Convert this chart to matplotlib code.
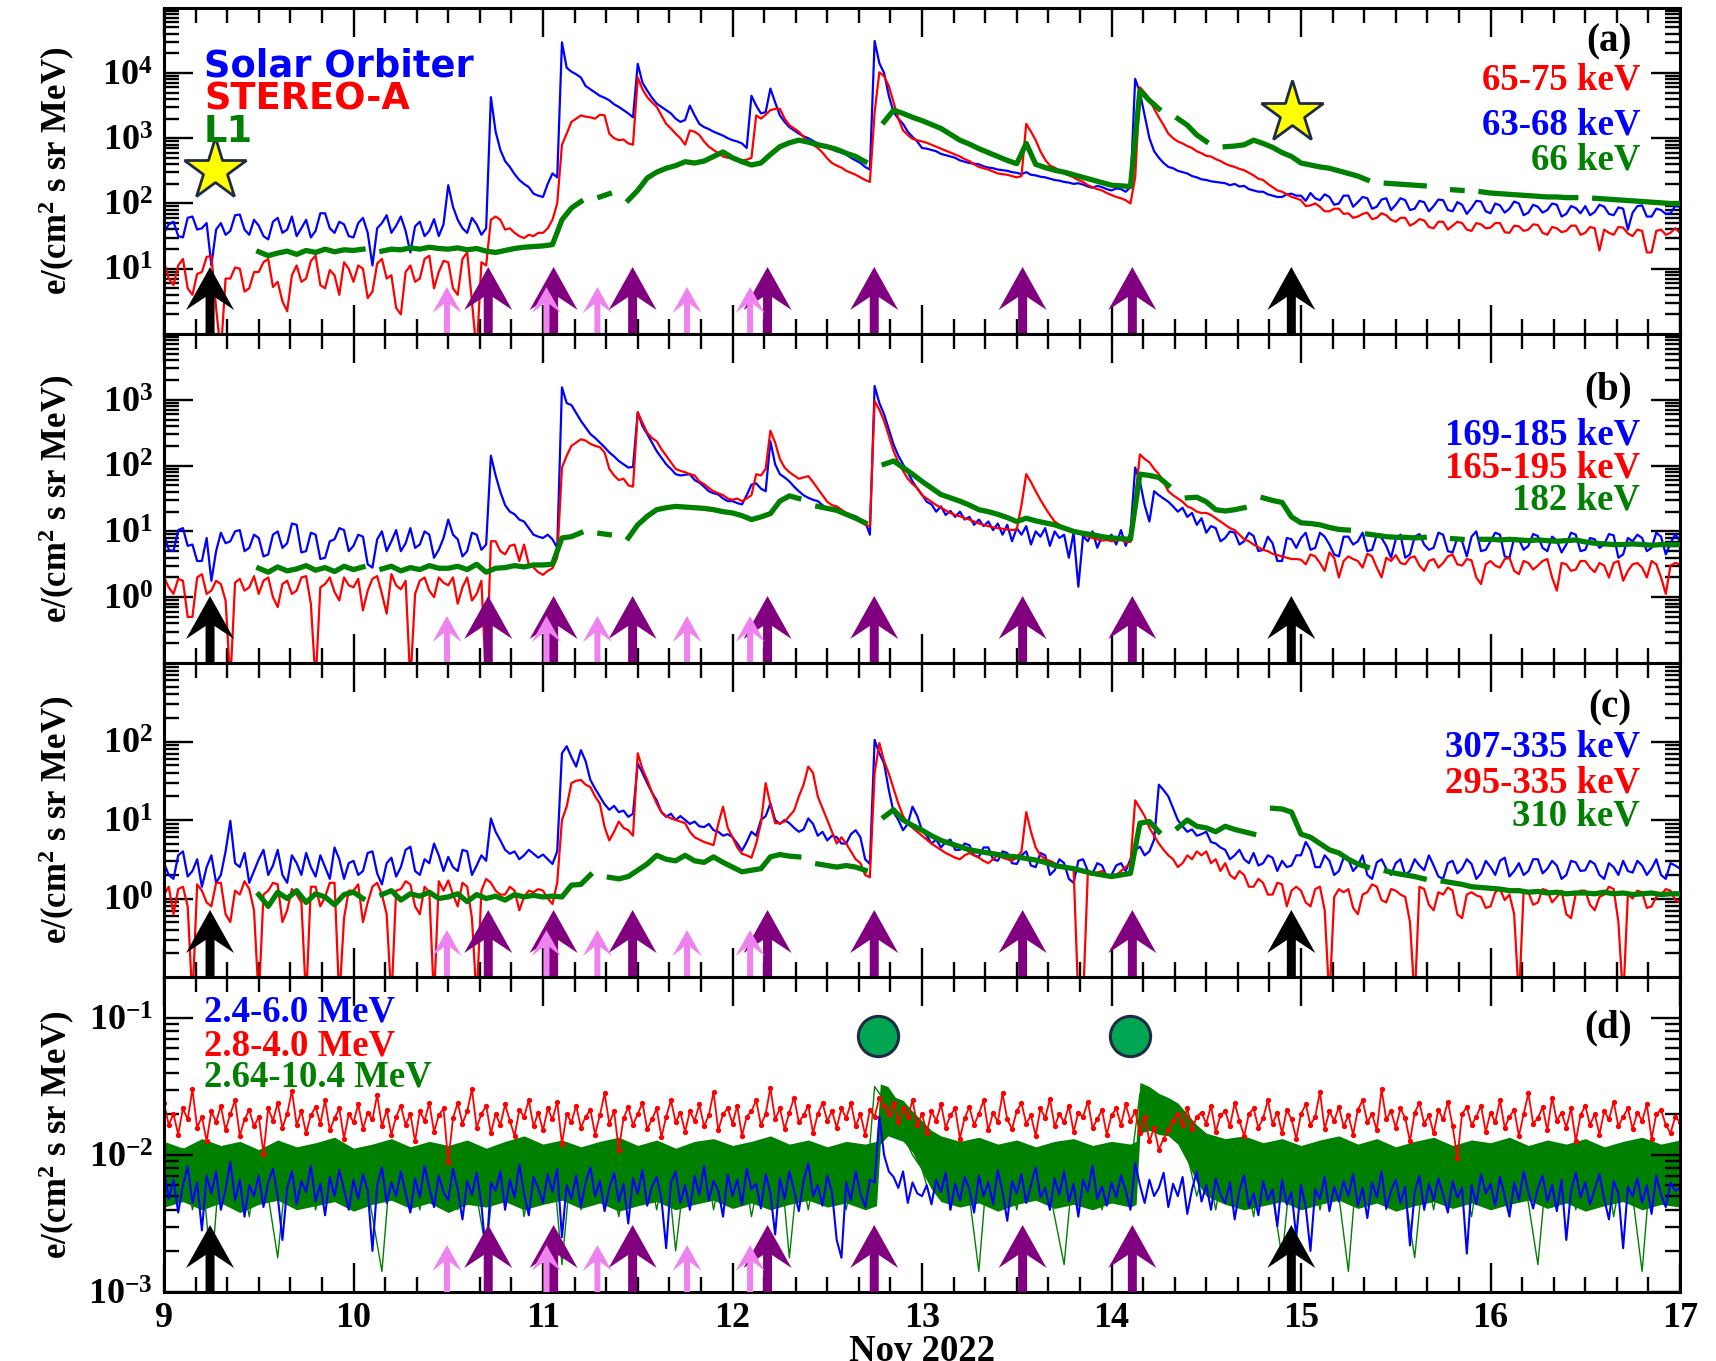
import numpy as np
import matplotlib
matplotlib.use("Agg")
import matplotlib.pyplot as plt
from matplotlib import transforms as mtransforms
from matplotlib.patches import Polygon
from matplotlib.ticker import FixedLocator, LogLocator, MultipleLocator, NullFormatter, FuncFormatter

nan = np.nan

# ---------------------------------------------------------------------------
# Time grids: 9 - 17 Nov 2022
days = np.round(9.0 + 0.05 * np.arange(161), 3)        # 0.05-day samples (L1 channels)
days_fine = np.round(9.0 + 0.025 * np.arange(321), 3)  # 0.025-day samples

# All intensities below are log10 of e/(cm^2 s sr MeV)
# Panel (a): ~65 keV  (Solar Orbiter / STEREO-A on the fine grid)
solo_a = [
    1.55, 1.68, 1.72, 1.50, 1.48, 1.78, 1.80, 1.60, 1.62, 1.70,
    1.05, 1.60, 1.70, 1.52, 1.58, 1.82, 1.83, 1.60, 1.52, 1.75,
    1.66, 1.50, 1.45, 1.72, 1.78, 1.55, 1.60, 1.80, 1.50, 1.62,
    1.75, 1.48, 1.58, 1.85, 1.85, 1.62, 1.55, 1.72, 1.68, 1.50,
    1.48, 1.70, 1.78, 1.55, 1.05, 1.62, 1.70, 1.82, 1.55, 1.66,
    1.80, 1.58, 1.25, 1.65, 1.72, 1.50, 1.58, 1.76, 1.50, 1.68,
    2.28, 1.95, 1.75, 1.62, 1.55, 1.78, 1.68, 1.52, 1.62, 3.63,
    3.10, 2.82, 2.65, 2.56, 2.45, 2.36, 2.30, 2.25, 2.15, 2.12,
    2.10, 2.30, 2.46, 2.40, 4.47, 4.08, 4.02, 3.98, 3.93, 3.80,
    3.75, 3.70, 3.65, 3.62, 3.58, 3.52, 3.48, 3.43, 3.38, 3.32,
    4.14, 3.85, 3.73, 3.62, 3.53, 3.48, 3.43, 3.38, 3.30, 3.25,
    3.28, 3.50, 3.35, 3.22, 3.17, 3.14, 3.10, 3.07, 3.04, 3.00,
    2.97, 2.95, 2.92, 2.85, 3.65, 3.50, 3.38, 3.40, 3.76, 3.55,
    3.35, 3.25, 3.17, 3.12, 3.07, 3.03, 3.00, 2.96, 2.92, 2.88,
    2.86, 2.83, 2.80, 2.78, 2.75, 2.70, 2.66, 2.62, 2.56, 2.52,
    4.49, 4.15, 4.00, 3.65, 3.40, 3.30, 3.22, 3.10, 3.02, 2.95,
    2.85, 2.84, 2.82, 2.80, 2.76, 2.74, 2.72, 2.70, 2.66, 2.64,
    2.62, 2.61, 2.60, 2.57, 2.55, 2.54, 2.52, 2.51, 2.50, 2.48,
    2.47, 2.45, 2.48, 2.44, 2.43, 2.41, 2.40, 2.38, 2.36, 2.35,
    2.33, 2.32, 2.30, 2.31, 2.29, 2.26, 2.24, 2.27, 2.25, 2.22,
    2.20, 2.23, 2.22, 2.18, 2.25, 3.91, 3.70, 3.35, 3.00, 2.80,
    2.70, 2.62, 2.56, 2.54, 2.50, 2.48, 2.46, 2.42, 2.40, 2.37,
    2.36, 2.34, 2.33, 2.32, 2.31, 2.28, 2.30, 2.26, 2.27, 2.22,
    2.20, 2.18, 2.18, 2.14, 2.12, 2.10, 2.10, 2.14, 2.15, 2.12,
    2.12, 2.04, 2.16, 2.08, 2.05, 2.14, 2.10, 1.98, 2.00, 2.12,
    2.12, 1.95, 2.02, 2.10, 2.08, 1.92, 1.95, 2.06, 2.08, 1.90,
    1.98, 2.08, 2.05, 1.90, 1.92, 2.04, 2.02, 1.88, 1.96, 2.06,
    2.05, 1.90, 1.88, 2.02, 1.98, 1.84, 1.93, 2.04, 2.03, 1.88,
    1.85, 2.00, 1.97, 1.86, 1.92, 2.03, 2.00, 1.82, 1.86, 1.98,
    1.95, 1.86, 1.90, 2.00, 1.98, 1.80, 1.84, 1.96, 1.93, 1.85,
    1.96, 1.82, 1.87, 1.98, 1.95, 1.84, 1.82, 1.94, 1.92, 1.60,
    1.86, 1.96, 1.97, 1.80, 1.80, 1.92, 1.90, 1.84, 1.85, 1.96,
    1.95]
sta_a = [
    1.10, 0.85, 0.75, 1.05, 1.15, 0.70, 0.60, 0.92, 0.95, 1.18,
    1.20, 0.40, -0.30, 0.85, 0.85, 1.02, 1.00, 0.65, 0.70, 0.95,
    0.95, 1.10, 1.15, 0.72, 0.80, 0.50, 0.35, 0.90, 1.05, 0.80,
    0.85, 1.12, 1.20, 0.75, 0.70, 0.98, 0.90, 0.60, 1.10, 1.00,
    0.80, 1.05, 1.00, 0.55, 0.65, 1.08, 1.15, 0.85, 0.90, 0.40,
    0.30, 0.95, 1.05, 0.80, 0.85, 1.15, 1.20, 0.70, 0.95, 1.12,
    1.10, 0.70, 0.60, 1.15, 1.25, 0.50, -0.30, 1.10, 1.05, 1.75,
    1.80, 1.75, 1.60, 1.62, 1.55, 1.50, 1.47, 1.52, 1.50, 1.55,
    1.55, 1.62, 1.75, 2.00, 2.90, 3.07, 3.25, 3.30, 3.35, 3.33,
    3.32, 3.30, 3.36, 3.35, 3.07, 3.00, 2.97, 2.98, 2.92, 2.90,
    3.93, 3.75, 3.63, 3.55, 3.48, 3.35, 3.22, 3.15, 3.07, 3.00,
    2.90, 3.12, 3.10, 3.05, 2.95, 2.87, 2.82, 2.77, 2.72, 2.70,
    2.69, 2.68, 2.66, 2.67, 2.70, 3.35, 3.30, 3.36, 3.43, 3.45,
    3.45, 3.30, 3.20, 3.15, 3.10, 3.02, 2.95, 2.90, 2.85, 2.78,
    2.69, 2.62, 2.58, 2.55, 2.50, 2.47, 2.44, 2.40, 2.36, 2.33,
    3.40, 4.01, 3.95, 3.80, 3.55, 3.30, 3.12, 3.05, 2.99, 2.97,
    2.95, 2.93, 2.90, 2.87, 2.84, 2.81, 2.78, 2.75, 2.72, 2.68,
    2.65, 2.60, 2.56, 2.54, 2.52, 2.49, 2.46, 2.45, 2.44, 2.42,
    2.40, 2.42, 3.22, 3.10, 2.97, 2.80, 2.67, 2.58, 2.55, 2.50,
    2.46, 2.43, 2.40, 2.36, 2.33, 2.28, 2.25, 2.22, 2.20, 2.16,
    2.13, 2.10, 2.08, 2.05, 2.00, 2.40, 3.78, 3.70, 3.60, 3.45,
    3.32, 3.20, 3.07, 3.00, 2.95, 2.92, 2.88, 2.85, 2.80, 2.77,
    2.73, 2.72, 2.68, 2.65, 2.61, 2.58, 2.56, 2.53, 2.51, 2.47,
    2.43, 2.38, 2.36, 2.30, 2.25, 2.20, 2.18, 2.14, 2.10, 2.08,
    2.05, 1.96, 1.97, 2.00, 1.95, 1.88, 1.88, 1.92, 1.92, 1.84,
    1.85, 1.78, 1.80, 1.84, 1.86, 1.76, 1.78, 1.85, 1.82, 1.75,
    1.72, 1.78, 1.78, 1.66, 1.70, 1.76, 1.74, 1.64, 1.62, 1.72,
    1.72, 1.60, 1.66, 1.72, 1.70, 1.60, 1.58, 1.70, 1.68, 1.62,
    1.63, 1.70, 1.70, 1.56, 1.55, 1.66, 1.65, 1.58, 1.60, 1.68,
    1.67, 1.55, 1.52, 1.64, 1.62, 1.56, 1.58, 1.66, 1.66, 1.52,
    1.55, 1.64, 1.62, 1.28, 1.60, 1.55, 1.52, 1.64, 1.63, 1.54,
    1.50, 1.60, 1.58, 1.25, 1.25, 1.58, 1.60, 1.52, 1.55, 1.62,
    1.55]
l1_a = [
    nan, nan, nan, nan, nan, nan, nan, nan, nan, nan,
    1.26, 1.20, 1.24, 1.27, 1.22, 1.28, 1.25, 1.30, 1.26, 1.29,
    1.28, 1.30, nan, 1.27, 1.30, 1.29, 1.32, 1.30, 1.33, 1.31,
    1.30, 1.32, 1.29, 1.31, 1.27, 1.25, 1.28, 1.31, 1.33, 1.34,
    1.35, 1.37, 1.75, 1.93, 2.03, nan, 2.10, 2.15, nan, 2.05,
    2.20, 2.39, 2.48, 2.54, 2.58, 2.64, 2.62, 2.65, 2.72, 2.79,
    2.70, 2.64, 2.59, 2.62, 2.75, 2.87, 2.93, 2.97, 2.94, 2.90,
    2.87, 2.83, 2.77, 2.72, 2.64, nan, 3.25, 3.43, 3.38, 3.32,
    3.27, 3.21, 3.15, 3.06, 2.97, 2.91, 2.84, 2.78, 2.72, 2.66,
    2.61, 2.92, 2.60, 2.55, 2.51, 2.48, 2.44, 2.40, 2.36, 2.32,
    2.28, 2.27, 2.26, 3.73, 3.58, 3.45, nan, 3.30, 3.20, 3.05,
    2.95, nan, 2.87, 2.88, 2.90, 2.97, 2.92, 2.86, 2.78, 2.72,
    2.62, 2.59, 2.56, 2.54, 2.50, 2.46, 2.42, 2.36, nan, 2.31,
    2.30, 2.29, 2.28, 2.27, nan, nan, 2.21, 2.20, nan, 2.18,
    2.16, 2.15, 2.14, 2.13, 2.12, 2.11, 2.10, 2.10, 2.09, 2.09,
    nan, 2.08, 2.07, 2.06, 2.05, 2.04, 2.03, 2.02, 2.01, 2.00,
    2.00]

# Panel (b): ~180 keV
solo_b = [
    0.95, 0.72, 0.70, 1.02, 1.05, 0.78, 0.80, 0.55, 0.55, 0.90,
    0.25, 0.70, 0.98, 0.82, 0.85, 1.00, 1.02, 0.70, 0.75, 0.95,
    0.90, 0.62, 0.65, 0.95, 1.00, 0.75, 0.82, 1.12, 1.10, 0.68,
    0.70, 0.98, 0.95, 0.58, 0.60, 0.85, 0.88, 1.05, 1.02, 0.70,
    0.78, 0.95, 0.92, 0.50, 0.45, 0.88, 1.00, 0.70, 0.85, 1.02,
    0.70, 0.82, 1.05, 0.75, 0.80, 1.00, 0.95, 0.60, 0.72, 0.90,
    1.18, 0.95, 0.88, 0.62, 0.70, 0.98, 0.95, 0.72, 0.80, 2.15,
    1.85, 1.60, 1.40, 1.30, 1.26, 1.18, 1.15, 1.05, 0.95, 0.92,
    0.90, 0.95, 0.88, 0.75, 3.19, 2.95, 2.92, 2.80, 2.68, 2.58,
    2.48, 2.42, 2.35, 2.28, 2.20, 2.14, 2.07, 2.02, 1.97, 1.98,
    2.81, 2.60, 2.48, 2.35, 2.22, 2.12, 2.02, 1.95, 1.87, 1.85,
    1.86, 1.87, 1.78, 1.74, 1.68, 1.61, 1.58, 1.56, 1.50, 1.46,
    1.46, 1.43, 1.41, 1.55, 1.71, 1.73, 1.65, 1.61, 2.37, 2.02,
    1.87, 1.82, 1.76, 1.68, 1.61, 1.55, 1.51, 1.48, 1.46, 1.40,
    1.33, 1.36, 1.35, 1.28, 1.28, 1.25, 1.23, 1.18, 1.15, 0.95,
    3.21, 2.95, 2.78, 2.55, 2.32, 2.15, 2.02, 1.90, 1.76, 1.65,
    1.56, 1.45, 1.41, 1.30, 1.38, 1.25, 1.31, 1.22, 1.30, 1.18,
    1.22, 1.10, 1.18, 1.08, 1.15, 1.02, 1.12, 0.95, 1.10, 0.85,
    1.05, 0.95, 1.08, 0.80, 1.00, 0.92, 1.05, 0.78, 1.00, 0.90,
    0.95, 0.60, 0.98, 0.16, 0.93, 0.85, 1.00, 0.75, 0.93, 0.88,
    0.95, 0.80, 1.02, 0.78, 0.98, 1.97, 1.76, 1.40, 1.15, 1.61,
    1.55, 1.50, 1.45, 1.38, 1.30, 1.36, 1.22, 1.28, 1.10, 1.20,
    0.98, 1.08, 1.05, 0.85, 0.90, 1.00, 0.98, 0.80, 0.85, 0.98,
    0.93, 0.70, 0.72, 0.92, 0.82, 0.55, 0.55, 0.90, 0.88, 0.75,
    0.90, 0.98, 0.72, 0.75, 0.98, 0.92, 0.80, 0.65, 0.62, 0.92,
    0.92, 0.80, 0.85, 0.98, 0.70, 0.72, 0.95, 0.90, 0.78, 0.60,
    0.88, 0.95, 0.60, 0.65, 0.92, 0.96, 0.80, 0.72, 0.75, 0.98,
    0.95, 0.70, 0.68, 0.90, 0.85, 0.62, 0.92, 1.00, 0.70, 0.72,
    0.85, 0.98, 0.95, 0.62, 0.60, 0.90, 0.88, 0.72, 0.78, 0.96,
    0.93, 0.75, 0.70, 0.92, 0.86, 0.68, 0.80, 0.98, 0.95, 0.70,
    0.72, 0.90, 0.88, 0.75, 0.80, 0.96, 0.94, 0.60, 0.65, 0.90,
    0.85, 0.95, 0.90, 0.70, 0.75, 0.98, 0.92, 0.65, 0.82, 0.96,
    0.85]
sta_b = [
    0.30, 0.15, 0.05, 0.28, 0.25, -0.30, -0.30, 0.30, 0.35, 0.05,
    0.10, 0.25, 0.20, -0.05, -1.30, 0.22, 0.28, 0.10, 0.15, 0.32,
    0.05, 0.25, 0.30, 0.00, -0.15, 0.20, 0.25, 0.05, 0.10, 0.30,
    0.32, -0.10, -1.30, 0.15, 0.20, 0.30, 0.08, -0.05, 0.30, 0.18,
    0.15, 0.28, -0.20, 0.10, 0.28, 0.32, 0.05, -0.25, 0.35, 0.18,
    0.12, 0.25, -1.30, 0.05, 0.25, 0.30, 0.10, 0.00, 0.30, 0.22,
    0.18, 0.30, -0.10, 0.15, 0.30, -0.05, 0.05, 0.25, -1.30, 0.85,
    0.85, 0.70, 0.65, 0.78, 0.80, 0.55, 0.80, 0.50, 0.45, 0.38,
    0.34, 0.40, 0.44, 0.60, 1.97, 2.15, 2.30, 2.35, 2.40, 2.38,
    2.33, 2.30, 2.28, 2.20, 1.95, 1.85, 1.78, 1.80, 1.70, 1.68,
    2.81, 2.65, 2.50, 2.42, 2.37, 2.25, 2.15, 2.05, 1.95, 1.92,
    1.90, 1.87, 1.85, 1.76, 1.72, 1.66, 1.61, 1.58, 1.55, 1.50,
    1.48, 1.50, 1.46, 1.50, 1.55, 1.87, 1.85, 1.95, 2.53, 2.35,
    2.10, 1.97, 1.90, 1.85, 1.80, 1.82, 1.84, 1.75, 1.65, 1.55,
    1.45, 1.40, 1.38, 1.33, 1.28, 1.25, 1.20, 1.15, 1.10, 1.08,
    2.98, 2.85, 2.68, 2.45, 2.22, 2.05, 1.92, 1.80, 1.72, 1.66,
    1.55, 1.50, 1.45, 1.40, 1.36, 1.32, 1.28, 1.25, 1.23, 1.20,
    1.18, 1.15, 1.12, 1.10, 1.08, 1.06, 1.05, 1.04, 1.03, 1.02,
    1.03, 1.40, 1.87, 1.75, 1.61, 1.48, 1.36, 1.25, 1.15, 1.10,
    1.05, 1.02, 1.00, 0.97, 0.95, 0.92, 0.90, 0.88, 0.86, 0.87,
    0.85, 0.86, 0.87, 0.84, 0.84, 1.50, 2.17, 2.10, 2.05, 1.95,
    1.87, 1.75, 1.61, 1.55, 1.50, 1.45, 1.38, 1.35, 1.30, 1.28,
    1.28, 1.25, 1.20, 1.15, 1.10, 1.05, 1.02, 0.95, 0.88, 0.85,
    0.80, 0.76, 0.72, 0.70, 0.66, 0.64, 0.62, 0.60, 0.58, 0.58,
    0.57, 0.50, 0.65, 0.62, 0.52, 0.40, 0.68, 0.60, 0.30, 0.55,
    0.62, 0.58, 0.55, 0.45, 0.66, 0.62, 0.45, 0.30, 0.60, 0.55,
    0.64, 0.52, 0.50, 0.60, 0.62, 0.48, 0.40, 0.55, 0.58, 0.45,
    0.52, 0.62, 0.65, 0.50, 0.48, 0.58, 0.56, 0.30, 0.20, 0.50,
    0.55, 0.48, 0.45, 0.58, 0.60, 0.40, 0.35, 0.55, 0.52, 0.42,
    0.48, 0.55, 0.58, 0.30, 0.10, 0.52, 0.50, 0.40, 0.42, 0.55,
    0.55, 0.45, 0.38, 0.52, 0.48, 0.30, 0.52, 0.55, 0.25, 0.40,
    0.50, 0.52, 0.45, 0.30, 0.55, 0.50, 0.30, 0.05, 0.48, 0.52,
    0.50]
l1_b = [
    nan, nan, nan, nan, nan, nan, nan, nan, nan, nan,
    0.44, 0.38, 0.46, 0.40, 0.43, 0.48, 0.41, 0.45, 0.39, 0.47,
    0.42, 0.46, nan, 0.43, 0.47, 0.40, 0.45, 0.42, 0.48, 0.44,
    0.44, 0.47, 0.42, 0.50, 0.38, 0.44, 0.45, 0.48, 0.46, 0.49,
    0.49, 0.50, 0.90, 0.92, 0.98, nan, 0.97, 0.95, nan, 0.90,
    1.10, 1.23, 1.33, 1.36, 1.38, 1.37, 1.36, 1.35, 1.33, 1.30,
    1.28, 1.24, 1.18, 1.22, 1.27, 1.46, 1.54, 1.50, nan, 1.38,
    1.35, 1.32, 1.26, 1.20, 1.13, nan, 2.02, 2.07, 1.97, 1.87,
    1.76, 1.66, 1.56, 1.51, 1.46, 1.40, 1.33, 1.30, 1.26, 1.21,
    1.15, 1.20, 1.16, 1.13, 1.10, 1.05, 1.00, 0.97, 0.95, 0.92,
    0.90, 0.89, 0.88, 1.87, 1.85, 1.82, 1.70, nan, 1.51, 1.52,
    1.45, 1.33, 1.31, 1.33, 1.36, nan, 1.51, 1.47, 1.44, 1.22,
    1.13, 1.12, 1.10, 1.06, 1.03, 1.02, nan, 0.96, 0.94, 0.92,
    0.91, 0.91, 0.90, 0.91, nan, nan, 0.89, 0.88, nan, 0.88,
    0.88, 0.87, 0.88, 0.87, 0.86, 0.87, 0.86, 0.85, 0.86, 0.87,
    0.84, 0.82, 0.81, 0.80, 0.80, 0.81, 0.80, 0.79, 0.80, 0.80,
    0.80]

# Panel (c): ~310 keV
solo_c = [
    0.45, 0.30, 0.25, 0.55, 0.60, 0.28, 0.35, 0.50, 0.15, 0.40,
    0.55, 0.20, 0.30, 0.60, 0.99, 0.45, 0.40, 0.58, 0.20, 0.35,
    0.50, 0.62, 0.30, 0.42, 0.62, 0.30, 0.20, 0.55, 0.45, 0.30,
    0.58, 0.40, 0.28, 0.55, 0.40, 0.25, 0.65, 0.50, 0.25, 0.45,
    0.48, 0.30, 0.35, 0.58, 0.60, 0.32, 0.18, 0.45, 0.52, 0.28,
    0.40, 0.62, 0.66, 0.35, 0.30, 0.50, 0.45, 0.70, 0.55, 0.35,
    0.53, 0.40, 0.35, 0.62, 0.60, 0.30, 0.42, 0.55, 0.48, 1.02,
    0.85, 0.74, 0.62, 0.57, 0.60, 0.50, 0.55, 0.62, 0.57, 0.52,
    0.56, 0.50, 0.44, 0.60, 1.85, 1.94, 1.80, 1.68, 1.89, 1.75,
    1.51, 1.40, 1.30, 1.20, 1.13, 1.18, 1.10, 1.12, 1.04, 1.08,
    1.72, 1.60, 1.47, 1.35, 1.25, 1.10, 1.04, 1.08, 1.00, 1.05,
    1.00, 0.95, 0.98, 0.92, 0.91, 0.95, 0.87, 0.85, 0.80, 0.82,
    0.78, 0.70, 0.61, 0.72, 0.85, 0.80, 1.00, 1.05, 1.21, 1.00,
    0.95, 1.00, 0.96, 0.90, 0.85, 0.88, 1.02, 0.95, 0.80, 0.85,
    0.74, 0.80, 0.78, 0.70, 0.70, 0.82, 0.87, 0.78, 0.50, 0.44,
    2.02, 1.85, 1.72, 1.38, 1.10, 1.00, 0.87, 0.95, 1.17, 1.05,
    0.87, 0.80, 0.70, 0.75, 0.65, 0.72, 0.75, 0.62, 0.62, 0.70,
    0.68, 0.55, 0.53, 0.65, 0.65, 0.50, 0.48, 0.60, 0.58, 0.45,
    0.44, 0.55, 0.60, 0.42, 0.40, 0.58, 0.55, 0.30, 0.36, 0.50,
    0.45, 0.25, 0.20, 0.48, 0.50, 0.35, 0.32, 0.45, 0.42, 0.28,
    0.30, 0.42, 0.45, 0.35, 0.50, 0.62, 0.66, 0.55, 0.60, 0.75,
    1.45, 1.38, 1.30, 1.15, 1.00, 0.92, 0.85, 0.88, 0.80, 0.82,
    0.85, 0.72, 0.70, 0.65, 0.62, 0.50, 0.55, 0.62, 0.50, 0.45,
    0.58, 0.42, 0.45, 0.55, 0.52, 0.35, 0.48, 0.40, 0.42, 0.55,
    0.55, 0.72, 0.62, 0.40, 0.40, 0.55, 0.48, 0.30, 0.35, 0.52,
    0.50, 0.35, 0.42, 0.55, 0.30, 0.25, 0.46, 0.50, 0.38, 0.30,
    0.45, 0.50, 0.30, 0.35, 0.50, 0.42, 0.36, 0.55, 0.42, 0.28,
    0.25, 0.45, 0.48, 0.32, 0.38, 0.50, 0.44, 0.25, 0.32, 0.48,
    0.40, 0.30, 0.48, 0.52, 0.28, 0.35, 0.45, 0.30, 0.35, 0.50,
    0.50, 0.32, 0.38, 0.48, 0.42, 0.25, 0.30, 0.48, 0.46, 0.35,
    0.36, 0.48, 0.44, 0.30, 0.25, 0.45, 0.40, 0.30, 0.48, 0.35,
    0.33, 0.48, 0.42, 0.30, 0.38, 0.50, 0.30, 0.25, 0.45, 0.42,
    0.38]
sta_c = [
    0.05, 0.15, -0.20, 0.12, 0.15, -0.10, -1.30, 0.18, 0.10, -0.05,
    -0.10, 0.20, 0.20, -0.20, -0.30, 0.10, 0.05, 0.22, 0.12, -0.15,
    -1.30, 0.05, 0.10, 0.20, 0.18, -0.30, -0.15, 0.12, 0.05, -0.05,
    -1.30, 0.15, 0.15, -0.10, 0.02, 0.20, 0.20, -1.30, -0.25, 0.10,
    0.10, 0.18, -0.30, -0.05, 0.15, 0.20, 0.05, -0.20, -1.30, 0.10,
    0.12, 0.22, 0.18, -0.10, -0.20, 0.15, 0.08, -1.30, 0.22, 0.10,
    0.23, 0.05, -0.10, 0.20, 0.15, -0.25, -1.30, 0.10, 0.25, 0.20,
    0.10, 0.05, 0.05, 0.15, 0.10, -0.15, 0.02, 0.10, 0.08, 0.12,
    0.10, 0.00, -0.07, 0.20, 1.00, 1.17, 1.47, 1.50, 1.51, 1.45,
    1.42, 1.30, 1.21, 0.91, 0.74, 0.85, 0.98, 0.90, 0.87, 0.80,
    1.85, 1.65, 1.51, 1.35, 1.21, 1.10, 1.05, 1.02, 1.00, 0.98,
    0.96, 0.85, 0.78, 0.75, 0.72, 0.70, 0.68, 0.95, 1.17, 0.90,
    0.78, 0.65, 0.57, 0.55, 0.52, 0.70, 0.96, 1.47, 1.20, 0.96,
    0.96, 0.98, 1.05, 1.12, 1.30, 1.45, 1.68, 1.60, 1.30, 1.15,
    1.00, 0.85, 0.70, 0.78, 0.70, 0.60, 0.50, 0.45, 0.30, 0.27,
    1.60, 1.98, 1.75, 1.59, 1.40, 1.21, 1.05, 0.96, 0.90, 0.85,
    0.80, 0.75, 0.70, 0.66, 0.62, 0.58, 0.55, 0.52, 0.50, 0.55,
    0.58, 0.55, 0.52, 0.48, 0.45, 0.50, 0.55, 0.52, 0.50, 0.48,
    0.52, 0.60, 1.10, 0.85, 0.65, 0.55, 0.50, 0.48, 0.45, 0.42,
    0.40, 0.38, 0.38, -1.30, -1.30, 0.32, 0.30, 0.33, 0.35, 0.30,
    0.28, 0.30, 0.35, 0.40, 0.45, 1.25, 1.15, 1.05, 0.90, 0.80,
    0.70, 0.62, 0.55, 0.50, 0.40, 0.45, 0.55, 0.50, 0.60, 0.55,
    0.60, 0.45, 0.50, 0.35, 0.45, 0.30, 0.25, 0.35, 0.30, 0.15,
    0.15, 0.25, 0.20, 0.05, 0.05, 0.20, 0.18, -0.10, 0.10, 0.15,
    0.10, -0.05, -0.10, 0.12, 0.15, -0.15, -1.30, 0.02, 0.12, 0.08,
    0.12, -0.12, -0.20, 0.05, 0.08, 0.18, 0.15, -0.02, -0.05, 0.12,
    0.10, 0.05, 0.02, -0.30, -1.30, 0.15, 0.12, -0.08, -0.15, 0.08,
    0.05, 0.14, 0.10, -0.20, -0.25, 0.05, 0.08, 0.04, 0.02, -0.12,
    -0.10, 0.08, 0.12, -0.02, 0.05, -0.20, -1.30, 0.10, 0.08, -0.08,
    -0.05, 0.12, 0.10, -0.05, 0.02, 0.10, -0.20, -0.25, 0.06, 0.10,
    0.10, -0.08, -0.15, 0.02, 0.05, 0.15, 0.12, -0.30, -1.30, 0.05,
    0.00, 0.10, 0.08, -0.12, -0.10, 0.02, 0.05, 0.12, 0.10, -0.02,
    -0.05]
l1_c = [
    nan, nan, nan, nan, nan, nan, nan, nan, nan, nan,
    0.05, -0.10, 0.08, 0.00, 0.10, -0.05, 0.06, 0.02, -0.08, 0.05,
    0.08, 0.00, nan, 0.05, 0.10, -0.02, 0.06, 0.03, 0.08, 0.00,
    0.02, 0.06, -0.04, 0.05, 0.00, 0.03, -0.02, 0.05, 0.02, 0.04,
    0.02, 0.03, 0.02, 0.17, 0.18, 0.30, nan, 0.27, 0.25, 0.28,
    0.36, 0.44, 0.55, 0.50, 0.48, 0.55, 0.48, 0.46, 0.53, 0.46,
    0.40, 0.34, 0.36, 0.38, 0.53, 0.56, 0.54, 0.53, nan, 0.44,
    0.42, 0.40, 0.42, 0.40, 0.36, nan, 1.04, 1.13, 1.00, 0.93,
    0.87, 0.80, 0.74, 0.70, 0.66, 0.62, 0.60, 0.58, 0.56, 0.54,
    0.53, 0.51, 0.49, 0.46, 0.42, 0.40, 0.38, 0.35, 0.32, 0.30,
    0.28, 0.30, 0.32, 0.96, 0.98, 0.85, nan, 0.90, 1.00, 0.92,
    0.90, 0.85, 0.92, 0.88, 0.85, 0.82, nan, 1.15, 1.14, 1.10,
    0.82, 0.78, 0.70, 0.62, 0.58, 0.50, 0.44, 0.40, nan, 0.35,
    0.32, 0.30, 0.28, 0.25, nan, 0.22, 0.20, 0.18, 0.15, 0.14,
    0.13, 0.12, 0.10, 0.10, 0.08, 0.09, 0.07, 0.08, 0.06, 0.07,
    0.07, 0.06, 0.08, 0.06, 0.07, 0.05, 0.06, 0.07, 0.05, 0.06,
    0.06]

# Panel (d): MeV electrons
solo_d = [
    -2.10, -2.32, -2.18, -2.42, -2.22, -2.08, -2.35, -2.20, -2.55, -2.15,
    -2.28, -2.12, -2.40, -2.25, -2.05, -2.33, -2.18, -2.45, -2.22, -2.30,
    -2.15, -2.38, -2.20, -2.10, -2.30, -2.62, -2.24, -2.12, -2.36, -2.19,
    -2.27, -2.08, -2.34, -2.21, -2.44, -2.16, -2.30, -2.11, -2.25, -2.40,
    -2.18, -2.32, -2.14, -2.26, -2.70, -2.22, -2.09, -2.35, -2.20, -2.30,
    -2.12, -2.28, -2.42, -2.17, -2.31, -2.08, -2.24, -2.38, -2.15, -2.27,
    -2.33, -2.10, -2.25, -2.47, -2.19, -2.29, -2.13, -2.36, -2.75, -2.20,
    -2.26, -2.12, -2.40, -2.18, -2.31, -2.07, -2.28, -2.44, -2.16, -2.24,
    -2.35, -2.14, -2.27, -2.10, -2.60, -2.22, -2.32, -2.15, -2.38, -2.20,
    -2.09, -2.30, -2.19, -2.41, -2.24, -2.13, -2.34, -2.21, -2.50, -2.17,
    -2.28, -2.11, -2.37, -2.23, -2.16, -2.32, -2.68, -2.20, -2.12, -2.35,
    -2.22, -2.40, -2.15, -2.29, -2.08, -2.33, -2.19, -2.26, -2.45, -2.14,
    -2.30, -2.18, -2.36, -2.10, -2.25, -2.21, -2.39, -2.14, -2.28, -2.58,
    -2.17, -2.32, -2.12, -2.26, -2.41, -2.19, -2.06, -2.30, -2.22, -2.37,
    -2.15, -2.27, -2.62, -2.75, -2.20, -2.33, -2.12, -2.28, -2.38, -2.18,
    -2.20, -1.72, -2.00, -2.12, -2.16, -2.24, -2.12, -2.35, -2.20, -2.28,
    -2.30, -2.22, -2.36, -2.18, -2.27, -2.13, -2.40, -2.21, -2.33, -2.16,
    -2.25, -2.42, -2.15, -2.30, -2.20, -2.36, -2.11, -2.27, -2.48, -2.19,
    -2.28, -2.14, -2.35, -2.22, -2.09, -2.31, -2.24, -2.40, -2.17, -2.29,
    -2.12, -2.34, -2.21, -2.45, -2.18, -2.27, -2.08, -2.32, -2.23, -2.37,
    -2.20, -2.31, -2.15, -2.26, -2.40, -2.06, -2.22, -2.35, -2.18, -2.30,
    -2.24, -2.13, -2.38, -2.21, -2.30, -2.16, -2.43, -2.25, -2.12, -2.34,
    -2.22, -2.40, -2.17, -2.29, -2.35, -2.20, -2.47, -2.26, -2.15, -2.38,
    -2.28, -2.44, -2.19, -2.33, -2.25, -2.52, -2.18, -2.36, -2.27, -2.60,
    -2.22, -2.38, -2.70, -2.25, -2.32, -2.16, -2.41, -2.23, -2.34, -2.19,
    -2.30, -2.14, -2.37, -2.24, -2.46, -2.20, -2.31, -2.12, -2.39, -2.26,
    -2.18, -2.35, -2.23, -2.66, -2.27, -2.15, -2.40, -2.21, -2.33, -2.17,
    -2.29, -2.42, -2.19, -2.31, -2.24, -2.72, -2.22, -2.36, -2.14, -2.28,
    -2.21, -2.37, -2.16, -2.30, -2.45, -2.20, -2.33, -2.12, -2.27, -2.39,
    -2.24, -2.15, -2.34, -2.22, -2.41, -2.18, -2.62, -2.26, -2.13, -2.31,
    -2.20, -2.36, -2.25, -2.14, -2.32, -2.47, -2.19, -2.28, -2.68, -2.23,
    -2.30, -2.17, -2.35, -2.22, -2.43, -2.15, -2.29, -2.38, -2.20, -2.26,
    -2.24]
sta_d = [
    -1.62, -1.78, -1.70, -1.85, -1.66, -1.74, -1.52, -1.80, -1.72, -1.90,
    -1.68, -1.76, -1.64, -1.82, -1.70, -1.60, -1.86, -1.74, -1.67, -1.79,
    -1.72, -1.99, -1.66, -1.75, -1.62, -1.80, -1.70, -1.53, -1.78, -1.68,
    -1.84, -1.71, -1.65, -1.77, -1.60, -1.82, -1.73, -1.66, -1.88, -1.70,
    -1.76, -1.63, -1.81, -1.69, -1.74, -1.56, -1.79, -1.67, -1.85, -1.72,
    -1.64, -1.78, -1.70, -1.90, -1.68, -1.75, -1.62, -1.83, -1.71, -1.66,
    -2.05, -1.73, -1.62, -1.77, -1.68, -1.52, -1.80, -1.70, -1.64, -1.84,
    -1.70, -1.78, -1.63, -1.75, -1.86, -1.67, -1.72, -1.60, -1.79, -1.69,
    -1.82, -1.66, -1.74, -1.61, -1.92, -1.70, -1.76, -1.64, -1.80, -1.72,
    -1.67, -1.85, -1.71, -1.55, -1.77, -1.68, -1.96, -1.73, -1.65, -1.78,
    -1.70, -1.62, -1.81, -1.74, -1.66, -1.87, -1.72, -1.60, -1.76, -1.69,
    -1.83, -1.68, -1.75, -1.63, -1.79, -1.71, -1.54, -1.82, -1.70, -1.66,
    -1.77, -1.64, -1.86, -1.72, -1.68, -1.60, -1.78, -1.70, -1.51, -1.74,
    -1.66, -1.81, -1.69, -1.58, -1.76, -1.71, -1.64, -1.84, -1.70, -1.62,
    -1.75, -1.68, -1.80, -1.66, -1.73, -1.62, -1.79, -1.70, -1.85, -1.67,
    -1.72, -1.58, -1.64, -1.70, -1.62, -1.76, -1.66, -1.72, -1.60, -1.78,
    -1.70, -1.84, -1.68, -1.75, -1.63, -1.80, -1.71, -1.66, -1.88, -1.73,
    -1.65, -1.78, -1.70, -1.60, -1.82, -1.69, -1.76, -1.55, -1.74, -1.81,
    -1.68, -1.62, -1.77, -1.71, -1.86, -1.66, -1.73, -1.59, -1.79, -1.70,
    -1.76, -1.64, -1.83, -1.69, -1.72, -1.61, -1.80, -1.74, -1.67, -1.85,
    -1.71, -1.66, -1.78, -1.63, -1.75, -1.68, -1.84, -1.72, -1.90, -1.80,
    -1.96, -1.88, -1.82, -1.75, -1.70, -1.78, -1.66, -1.81, -1.72, -1.69,
    -1.77, -1.64, -1.83, -1.71, -1.68, -1.79, -1.62, -1.75, -1.86, -1.70,
    -1.66, -1.80, -1.73, -1.60, -1.77, -1.69, -1.84, -1.67, -1.74, -1.88,
    -1.70, -1.63, -1.78, -1.72, -1.54, -1.81, -1.68, -1.75, -1.65, -1.79,
    -1.71, -1.85, -1.67, -1.60, -1.76, -1.70, -1.82, -1.52, -1.74, -1.68,
    -1.80, -1.66, -1.73, -1.90, -1.69, -1.62, -1.77, -1.71, -1.84, -1.67,
    -1.74, -1.61, -1.79, -2.02, -1.70, -1.65, -1.78, -1.72, -1.64, -1.83,
    -1.69, -1.76, -1.60, -1.80, -1.72, -1.67, -1.86, -1.70, -1.55, -1.77,
    -1.73, -1.65, -1.82, -1.58, -1.75, -1.69, -1.80, -1.66, -1.90, -1.71,
    -1.64, -1.78, -1.70, -1.85, -1.68, -1.74, -1.61, -1.79, -1.72, -1.66,
    -1.81, -1.69, -1.75, -1.63, -1.88, -1.70, -1.67, -1.78, -1.84, -1.72,
    -1.76]
l1_d = [
    -2.00, -2.30, -1.95, -2.40, -2.10, -2.85, -1.98, -2.35, -2.05, -2.45,
    -2.00, -2.30, -2.75, -2.05, -2.35, -1.95, -2.40, -2.10, -2.30, -2.00,
    -2.35, -2.05, -2.45, -2.85, -2.00, -2.30, -2.10, -2.40, -1.98, -2.35,
    -2.05, -2.40, -2.00, -2.30, -2.70, -2.05, -2.35, -1.95, -2.45, -2.10,
    -2.35, -2.00, -2.80, -2.05, -2.40, -1.98, -2.30, -2.10, -2.45, -2.00,
    -2.30, -2.05, -2.40, -2.00, -2.70, -2.10, -2.35, -1.95, -2.40, -2.05,
    -2.30, -2.00, -2.45, -2.10, -2.35, -1.98, -2.75, -2.05, -2.40, -2.00,
    -2.35, -2.05, -2.40, -2.00, -2.35, -1.50, -1.60, -1.75, -1.85, -2.00,
    -2.10, -2.35, -2.00, -2.40, -2.05, -2.30, -2.85, -2.00, -2.35, -2.05,
    -2.40, -2.00, -2.30, -2.10, -2.45, -2.80, -2.05, -2.35, -2.00, -2.40,
    -2.05, -2.35, -2.10, -1.55, -1.60, -1.68, -1.75, -1.85, -2.00, -2.30,
    -2.05, -2.40, -2.00, -2.35, -2.10, -2.45, -2.00, -2.30, -2.75, -2.05,
    -2.35, -2.00, -2.40, -2.10, -2.30, -2.85, -2.00, -2.35, -2.05, -2.40,
    -2.00, -2.30, -2.75, -2.05, -2.40, -2.00, -2.35, -2.10, -2.45, -2.00,
    -2.30, -2.05, -2.40, -2.00, -2.35, -2.80, -2.05, -2.30, -2.00, -2.40,
    -2.10, -2.35, -2.00, -2.45, -2.05, -2.30, -2.85, -2.00, -2.35, -2.05,
    -2.20]
# spread of the high-cadence L1 MeV channel: upper / lower edge
l1_d_band_days = [
    9.00, 9.10, 9.20, 9.30, 9.40, 9.50, 9.60, 9.70, 9.80, 9.90,
    10.00, 10.10, 10.20, 10.30, 10.40, 10.50, 10.60, 10.70, 10.80, 10.90,
    11.00, 11.10, 11.20, 11.30, 11.40, 11.50, 11.60, 11.70, 11.80, 11.90,
    12.00, 12.10, 12.20, 12.30, 12.40, 12.50, 12.60, 12.70, 12.76, 12.78,
    12.82, 12.86, 12.90, 12.95, 13.00, 13.05, 13.10, 13.20, 13.30, 13.40,
    13.50, 13.60, 13.70, 13.80, 13.90, 14.00, 14.10, 14.13, 14.15, 14.20,
    14.25, 14.30, 14.35, 14.40, 14.45, 14.50, 14.60, 14.70, 14.80, 14.90,
    15.00, 15.10, 15.20, 15.30, 15.40, 15.50, 15.60, 15.70, 15.80, 15.90,
    16.00, 16.10, 16.20, 16.30, 16.40, 16.50, 16.60, 16.70, 16.80, 16.90,
    17.00]
l1_d_band_hi = [
    -1.90, -1.95, -1.88, -1.93, -1.90, -1.96, -1.89, -1.94, -1.91, -1.87,
    -1.95, -1.92, -1.88, -1.94, -1.90, -1.93, -1.89, -1.95, -1.90, -1.86,
    -1.92, -1.89, -1.94, -1.90, -1.87, -1.93, -1.89, -1.95, -1.90, -1.88,
    -1.93, -1.90, -1.86, -1.92, -1.89, -1.94, -1.90, -1.92, -1.90, -1.48,
    -1.50, -1.58, -1.60, -1.68, -1.75, -1.82, -1.86, -1.90, -1.87, -1.92,
    -1.89, -1.94, -1.90, -1.88, -1.93, -1.90, -1.92, -1.90, -1.47, -1.50,
    -1.55, -1.58, -1.62, -1.70, -1.78, -1.84, -1.88, -1.86, -1.91, -1.88,
    -1.93, -1.89, -1.86, -1.92, -1.88, -1.94, -1.90, -1.87, -1.93, -1.89,
    -1.91, -1.87, -1.93, -1.89, -1.92, -1.88, -1.94, -1.90, -1.87, -1.92,
    -1.89]
l1_d_band_lo = [
    -2.38, -2.34, -2.40, -2.35, -2.42, -2.36, -2.33, -2.40, -2.37, -2.34,
    -2.41, -2.36, -2.33, -2.39, -2.35, -2.42, -2.36, -2.38, -2.34, -2.40,
    -2.36, -2.33, -2.39, -2.35, -2.41, -2.37, -2.34, -2.40, -2.36, -2.33,
    -2.39, -2.35, -2.40, -2.36, -2.33, -2.38, -2.35, -2.40, -2.37, -1.92,
    -1.86, -1.88, -1.90, -1.98, -2.12, -2.25, -2.34, -2.38, -2.35, -2.41,
    -2.36, -2.33, -2.39, -2.36, -2.40, -2.35, -2.38, -2.36, -1.84, -1.82,
    -1.85, -1.86, -1.92, -2.05, -2.20, -2.30, -2.36, -2.40, -2.37, -2.34,
    -2.40, -2.36, -2.33, -2.39, -2.35, -2.41, -2.37, -2.34, -2.39, -2.35,
    -2.40, -2.36, -2.33, -2.39, -2.35, -2.41, -2.37, -2.34, -2.40, -2.36,
    -2.38]

# Event markers
black_arrow_days = [9.243, 14.949]
purple_arrow_days = [10.711, 11.056, 11.473, 12.185, 12.748, 13.531, 14.110]
violet_arrow_days = [10.493, 11.018, 11.287, 11.760, 12.093]
star_days = [9.27, 14.95]
star_vals = [330, 2450]
circle_days = [12.77, 14.10]
circle_vals = [0.074, 0.074]

# Labels
energy_labels = [
    [("65-75 keV", "red"), ("63-68 keV", "blue"), ("66 keV", "green")],
    [("169-185 keV", "blue"), ("165-195 keV", "red"), ("182 keV", "green")],
    [("307-335 keV", "blue"), ("295-335 keV", "red"), ("310 keV", "green")],
]
mev_labels = [("2.4-6.0 MeV", "blue"), ("2.8-4.0 MeV", "red"), ("2.64-10.4 MeV", "green")]
mission_labels = [("Solar Orbiter", "blue"), ("STEREO-A", "red"), ("L1", "green")]
panel_tags = ["(a)", "(b)", "(c)", "(d)"]
x_ticks = [9, 10, 11, 12, 13, 14, 15, 16, 17]

# ---------------------------------------------------------------------------
plt.rcParams["font.family"] = ["Liberation Serif", "DejaVu Serif"]
plt.rcParams["font.weight"] = "bold"
plt.rcParams["mathtext.fontset"] = "custom"
plt.rcParams["mathtext.rm"] = "Liberation Serif:bold"
plt.rcParams["mathtext.it"] = "Liberation Serif:bold:italic"
plt.rcParams["mathtext.bf"] = "Liberation Serif:bold"
plt.rcParams["mathtext.default"] = "rm"

W, H = 1716, 1361
fig = plt.figure(figsize=(W / 100, H / 100), dpi=100)

left_px, right_px = 164, 1680
row_edges = [7.7, 334, 663, 977, 1292]
ylims = [(1.0, 1e5), (0.1, 1e4), (0.1, 1e3), (1e-3, 10 ** -0.7)]
major_ticks = [[1e1, 1e2, 1e3, 1e4], [1e0, 1e1, 1e2, 1e3], [1e0, 1e1, 1e2], [1e-3, 1e-2, 1e-1]]

TXT = 26.5


def fx(px):
    return px / W


def fy(py):
    return 1 - py / H


def to_lin(v):
    return np.power(10.0, np.asarray(v, dtype=float))


def add_arrow(ax, x, color, big=True):
    if big:
        verts = [(0, 67), (24, 24), (4.5, 37), (4.5, 0), (-4.5, 0), (-4.5, 37), (-24, 24)]
    else:
        verts = [(0, 47), (14.5, 21), (3, 30), (3, 0), (-3, 0), (-3, 30), (-14.5, 21)]
    tr = mtransforms.IdentityTransform() + mtransforms.ScaledTranslation(
        x, 0, ax.get_xaxis_transform())
    ax.add_patch(Polygon(verts, closed=True, transform=tr, facecolor=color,
                         edgecolor="none", clip_on=False, zorder=6))


axes = []
for k in range(4):
    y_top, y_bot = row_edges[k], row_edges[k + 1]
    ax = fig.add_axes([fx(left_px), fy(y_bot), fx(right_px) - fx(left_px), (y_bot - y_top) / H])
    ax.set_yscale("log")
    ax.set_xlim(9, 17)
    ax.set_ylim(*ylims[k])
    ax.xaxis.set_major_locator(FixedLocator(x_ticks))
    ax.xaxis.set_minor_locator(MultipleLocator(1 / 6))
    ax.yaxis.set_major_locator(FixedLocator(major_ticks[k]))
    ax.yaxis.set_minor_locator(LogLocator(base=10, subs=np.arange(2, 10), numticks=50))
    ax.yaxis.set_minor_formatter(NullFormatter())
    ax.yaxis.set_major_formatter(FuncFormatter(lambda v, p: r"$10^{%d}$" % int(round(np.log10(v)))))
    ax.tick_params(axis="both", which="major", direction="in", length=21, width=1.7,
                   top=True, right=True, labelsize=26)
    ax.tick_params(axis="both", which="minor", direction="in", length=11, width=1.7,
                   top=True, right=True)
    ax.tick_params(axis="y", which="major", pad=8)
    ax.tick_params(axis="x", which="major", pad=7)
    for s in ax.spines.values():
        s.set_linewidth(2.2)
    if k < 3:
        ax.set_xticklabels([])
    axes.append(ax)

series_abc = [(solo_a, sta_a, l1_a), (solo_b, sta_b, l1_b), (solo_c, sta_c, l1_c)]
for k in range(3):
    ax = axes[k]
    solo, sta, l1 = series_abc[k]
    ax.plot(days_fine, to_lin(solo), color="blue", lw=1.6, zorder=2)
    ax.plot(days_fine, to_lin(sta), color="red", lw=1.6, zorder=2.5)
    ax.plot(days, to_lin(l1), color="green", lw=3.8, zorder=3)

axd = axes[3]
axd.fill_between(l1_d_band_days, to_lin(l1_d_band_lo), to_lin(l1_d_band_hi),
                 color="green", lw=0, zorder=1)
axd.plot(days, to_lin(l1_d), color="green", lw=1.0, zorder=1.5)
axd.plot(days_fine, to_lin(sta_d), color="red", lw=1.3, marker="o", ms=2.8, zorder=2)
axd.plot(days_fine, to_lin(solo_d), color="blue", lw=1.5, zorder=2.5)
axd.plot(circle_days, circle_vals, linestyle="none", marker="o", ms=29,
         markerfacecolor="#00a651", markeredgecolor="#1f2a44", markeredgewidth=2.2, zorder=7)

axes[0].plot(star_days, star_vals, linestyle="none", marker="*", ms=47,
             markerfacecolor="#ffff00", markeredgecolor="#1f2a44", markeredgewidth=2.0, zorder=7)

for ax in axes:
    for x in purple_arrow_days:
        add_arrow(ax, x, "#800080", big=True)
    for x in black_arrow_days:
        add_arrow(ax, x, "black", big=True)
    for x in violet_arrow_days:
        add_arrow(ax, x, "violet", big=False)

# y-axis titles
for k in range(4):
    yc = (row_edges[k] + row_edges[k + 1]) / 2
    fig.text(fx(57), fy(yc), r"e/(cm$^{2}$ s sr MeV)", rotation=90, ha="center", va="center",
             fontsize=25, fontweight="bold")

# panel tags
tag_y = [42, 390, 708, 1028]
for k in range(4):
    fig.text(fx(1632), fy(tag_y[k]), panel_tags[k], ha="right", va="center",
             fontsize=28, fontweight="bold")

# energy channel labels
energy_y = [[80, 125, 160], [435, 468, 500], [747, 783, 816]]
for k in range(3):
    for (txt, col), yy in zip(energy_labels[k], energy_y[k]):
        fig.text(fx(1640), fy(yy), txt, ha="right", va="center", color=col,
                 fontsize=TXT, fontweight="bold")

for (txt, col), yy in zip(mev_labels, [1012, 1046, 1077]):
    fig.text(fx(204), fy(yy), txt, ha="left", va="center", color=col,
             fontsize=TXT, fontweight="bold")

for (txt, col), yy in zip(mission_labels, [66, 99, 131]):
    fig.text(fx(204), fy(yy), txt, ha="left", va="center", color=col,
             fontsize=TXT, fontweight="bold", family="DejaVu Sans")

fig.text(fx(922), fy(1361), "Nov 2022", ha="center", va="baseline", fontsize=TXT,
         fontweight="bold")

fig.savefig("out.png", dpi=100)
